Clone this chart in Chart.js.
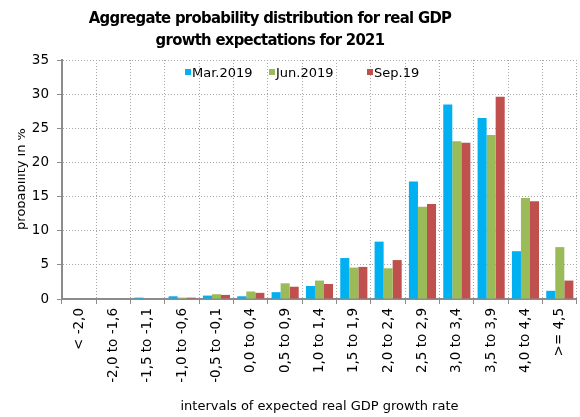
<!DOCTYPE html>
<html>
<head>
<meta charset="utf-8">
<script src="https://cdn.jsdelivr.net/npm/chart.js@4/dist/chart.umd.min.js"></script>
<style>
  html, body { margin: 0; padding: 0; background: #fff; }
  #wrap { width: 580px; height: 417px; }
</style>
</head>
<body>
<div id="wrap"><canvas id="chart" width="580" height="417"></canvas></div>
<script>
const categories = ['< -2,0', '-2,0 to -1,6', '-1,5 to -1,1', '-1,0 to -0,6', '-0,5 to -0,1',
  '0,0 to 0,4', '0,5 to 0,9', '1,0 to 1,4', '1,5 to 1,9', '2,0 to 2,4', '2,5 to 2,9',
  '3,0 to 3,4', '3,5 to 3,9', '4,0 to 4,4', '>= 4,5'];
const seriesNames = ['Mar.2019', 'Jun.2019', 'Sep.19'];
const mar2019 = [0, 0, 0.2, 0.4, 0.5, 0.4, 1.0, 1.9, 6.0, 8.4, 17.2, 28.5, 26.5, 7.0, 1.2];
const jun2019 = [0, 0, 0, 0.2, 0.7, 1.1, 2.3, 2.7, 4.6, 4.5, 13.5, 23.1, 24.0, 14.8, 7.6];
const sep2019 = [0, 0, 0, 0.2, 0.6, 0.9, 1.8, 2.2, 4.7, 5.7, 13.9, 22.9, 29.6, 14.3, 2.7];
const yTicks = [0, 5, 10, 15, 20, 25, 30, 35];

const colors = ['#00B0F0', '#9BBB59', '#C0504D'];
const titleLines = ['Aggregate probability distribution for real GDP', 'growth expectations for 2021'];
const yTitle = 'probability in %';
const xTitle = 'intervals of expected real GDP growth rate';
const FONT = "'DejaVu Sans', Verdana, sans-serif";
const FONT_NARROW = "'DejaVu Sans Condensed', 'DejaVu Sans', sans-serif";

// title, legend and axis titles drawn by hand, placed like the original
const decorations = {
  id: 'decorations',
  afterDraw(chart) {
    const ctx = chart.ctx;
    const area = chart.chartArea;
    ctx.save();
    ctx.fillStyle = '#000';
    ctx.textAlign = 'center';
    ctx.textBaseline = 'alphabetic';
    ctx.font = "bold 16.5px " + FONT_NARROW;
    ctx.letterSpacing = '-0.7px';
    ctx.fillText(titleLines[0], 270, 23);
    ctx.fillText(titleLines[1], 270, 45);
    ctx.letterSpacing = '0px';

    // legend
    ctx.font = "13px " + FONT;
    ctx.textAlign = 'left';
    const legendX = [185, 269, 367];
    chart.data.datasets.forEach((ds, i) => {
      ctx.fillStyle = ds.backgroundColor;
      ctx.fillRect(legendX[i], 69, 6, 6);
      ctx.fillStyle = '#000';
      ctx.fillText(ds.label, legendX[i] + 7, 77);
    });

    // x title
    ctx.textAlign = 'center';
    ctx.font = "13px " + FONT;
    ctx.fillText(xTitle, (area.left + area.right) / 2, 410);

    // y title, partly hidden on the left as in the original
    ctx.beginPath();
    ctx.rect(18, 0, 40, 417);
    ctx.clip();
    ctx.translate(25, 179);
    ctx.rotate(-Math.PI / 2);
    ctx.font = "13px " + FONT;
    ctx.fillText(yTitle, 0, 0);
    ctx.restore();
  }
};

const ctx = document.getElementById('chart').getContext('2d');
new Chart(ctx, {
  type: 'bar',
  data: {
    labels: categories,
    datasets: [
      { label: seriesNames[0], data: mar2019, backgroundColor: colors[0] },
      { label: seriesNames[1], data: jun2019, backgroundColor: colors[1] },
      { label: seriesNames[2], data: sep2019, backgroundColor: colors[2] }
    ]
  },
  options: {
    responsive: false,
    animation: false,
    layout: { padding: { top: 60, left: 0, right: -3, bottom: 0 } },
    datasets: {
      bar: { barPercentage: 1, categoryPercentage: 0.79 }
    },
    plugins: {
      legend: { display: false },
      title: { display: false },
      tooltip: { enabled: false }
    },
    scales: {
      x: {
        afterFit: (scale) => { scale.height = 118; },
        grid: {
          color: '#a6a6a6',
          tickColor: '#8c8c8c',
          tickLength: 5,
          tickBorderDash: [],
          offset: true
        },
        border: { display: true, color: '#8c8c8c', width: 2, dash: [1, 2] },
        ticks: {
          color: '#000',
          font: { family: FONT, size: 13.5 },
          minRotation: 90,
          maxRotation: 90,
          autoSkip: false,
          padding: 4
        }
      },
      y: {
        min: 0,
        max: 35,
        afterFit: (scale) => { scale.width = 62; },
        afterBuildTicks: (scale) => { scale.ticks = yTicks.map(v => ({ value: v })); },
        grid: {
          color: '#a6a6a6',
          tickColor: '#8c8c8c',
          tickLength: 5,
          tickBorderDash: []
        },
        border: { display: true, color: '#8c8c8c', width: 2, dash: [1, 2] },
        ticks: {
          color: '#000',
          font: { family: FONT, size: 13.5 },
          padding: 8
        }
      }
    }
  },
  plugins: [decorations]
});
</script>
</body>
</html>
